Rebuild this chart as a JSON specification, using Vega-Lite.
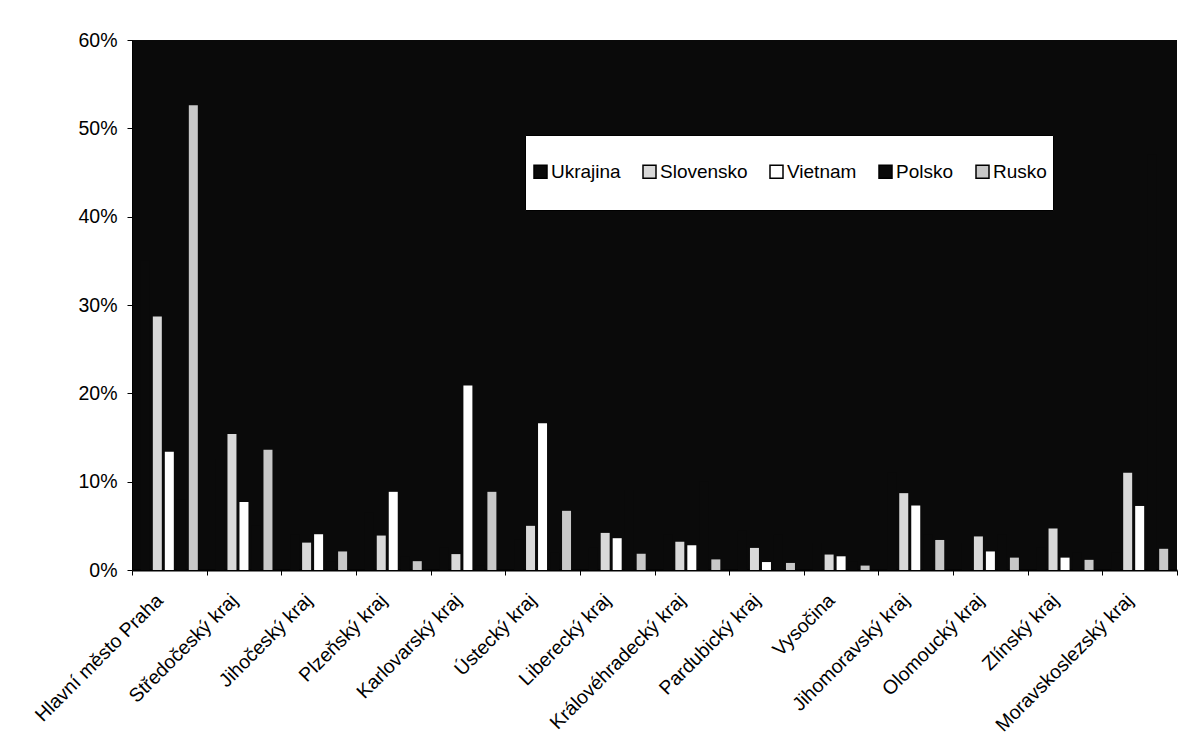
{
  "$schema": "https://vega.github.io/schema/vega-lite/v6.json",
  "width": 1045,
  "height": 530,
  "autosize": {"type": "none"},
  "padding": {"left": 132, "top": 40, "right": 20, "bottom": 181},
  "background": "white",
  "config": {
    "font": "Liberation Sans",
    "view": {"fill": "#0a0a0a", "stroke": null}
  },
  "data": {
    "values": [
      {"kraj": "Hlavní město Praha", "zeme": "Ukrajina", "podil": 0.35},
      {"kraj": "Hlavní město Praha", "zeme": "Slovensko", "podil": 0.287},
      {"kraj": "Hlavní město Praha", "zeme": "Vietnam", "podil": 0.134},
      {"kraj": "Hlavní město Praha", "zeme": "Polsko", "podil": 0.08},
      {"kraj": "Hlavní město Praha", "zeme": "Rusko", "podil": 0.526},
      {"kraj": "Středočeský kraj", "zeme": "Ukrajina", "podil": 0.125},
      {"kraj": "Středočeský kraj", "zeme": "Slovensko", "podil": 0.154},
      {"kraj": "Středočeský kraj", "zeme": "Vietnam", "podil": 0.077},
      {"kraj": "Středočeský kraj", "zeme": "Polsko", "podil": 0.05},
      {"kraj": "Středočeský kraj", "zeme": "Rusko", "podil": 0.136},
      {"kraj": "Jihočeský kraj", "zeme": "Ukrajina", "podil": 0.04},
      {"kraj": "Jihočeský kraj", "zeme": "Slovensko", "podil": 0.031},
      {"kraj": "Jihočeský kraj", "zeme": "Vietnam", "podil": 0.0405},
      {"kraj": "Jihočeský kraj", "zeme": "Polsko", "podil": 0.01},
      {"kraj": "Jihočeský kraj", "zeme": "Rusko", "podil": 0.021},
      {"kraj": "Plzeňský kraj", "zeme": "Ukrajina", "podil": 0.065},
      {"kraj": "Plzeňský kraj", "zeme": "Slovensko", "podil": 0.039},
      {"kraj": "Plzeňský kraj", "zeme": "Vietnam", "podil": 0.0885},
      {"kraj": "Plzeňský kraj", "zeme": "Polsko", "podil": 0.015},
      {"kraj": "Plzeňský kraj", "zeme": "Rusko", "podil": 0.01},
      {"kraj": "Karlovarský kraj", "zeme": "Ukrajina", "podil": 0.025},
      {"kraj": "Karlovarský kraj", "zeme": "Slovensko", "podil": 0.018},
      {"kraj": "Karlovarský kraj", "zeme": "Vietnam", "podil": 0.209},
      {"kraj": "Karlovarský kraj", "zeme": "Polsko", "podil": 0.005},
      {"kraj": "Karlovarský kraj", "zeme": "Rusko", "podil": 0.0885},
      {"kraj": "Ústecký kraj", "zeme": "Ukrajina", "podil": 0.035},
      {"kraj": "Ústecký kraj", "zeme": "Slovensko", "podil": 0.05},
      {"kraj": "Ústecký kraj", "zeme": "Vietnam", "podil": 0.166},
      {"kraj": "Ústecký kraj", "zeme": "Polsko", "podil": 0.02},
      {"kraj": "Ústecký kraj", "zeme": "Rusko", "podil": 0.067},
      {"kraj": "Liberecký kraj", "zeme": "Ukrajina", "podil": 0.025},
      {"kraj": "Liberecký kraj", "zeme": "Slovensko", "podil": 0.042},
      {"kraj": "Liberecký kraj", "zeme": "Vietnam", "podil": 0.036},
      {"kraj": "Liberecký kraj", "zeme": "Polsko", "podil": 0.09},
      {"kraj": "Liberecký kraj", "zeme": "Rusko", "podil": 0.0185},
      {"kraj": "Královéhradecký kraj", "zeme": "Ukrajina", "podil": 0.04},
      {"kraj": "Královéhradecký kraj", "zeme": "Slovensko", "podil": 0.032},
      {"kraj": "Královéhradecký kraj", "zeme": "Vietnam", "podil": 0.028},
      {"kraj": "Královéhradecký kraj", "zeme": "Polsko", "podil": 0.1},
      {"kraj": "Královéhradecký kraj", "zeme": "Rusko", "podil": 0.012},
      {"kraj": "Pardubický kraj", "zeme": "Ukrajina", "podil": 0.045},
      {"kraj": "Pardubický kraj", "zeme": "Slovensko", "podil": 0.025},
      {"kraj": "Pardubický kraj", "zeme": "Vietnam", "podil": 0.009},
      {"kraj": "Pardubický kraj", "zeme": "Polsko", "podil": 0.04},
      {"kraj": "Pardubický kraj", "zeme": "Rusko", "podil": 0.008},
      {"kraj": "Vysočina", "zeme": "Ukrajina", "podil": 0.03},
      {"kraj": "Vysočina", "zeme": "Slovensko", "podil": 0.0175},
      {"kraj": "Vysočina", "zeme": "Vietnam", "podil": 0.0155},
      {"kraj": "Vysočina", "zeme": "Polsko", "podil": 0.01},
      {"kraj": "Vysočina", "zeme": "Rusko", "podil": 0.005},
      {"kraj": "Jihomoravský kraj", "zeme": "Ukrajina", "podil": 0.11},
      {"kraj": "Jihomoravský kraj", "zeme": "Slovensko", "podil": 0.087},
      {"kraj": "Jihomoravský kraj", "zeme": "Vietnam", "podil": 0.073},
      {"kraj": "Jihomoravský kraj", "zeme": "Polsko", "podil": 0.04},
      {"kraj": "Jihomoravský kraj", "zeme": "Rusko", "podil": 0.034},
      {"kraj": "Olomoucký kraj", "zeme": "Ukrajina", "podil": 0.03},
      {"kraj": "Olomoucký kraj", "zeme": "Slovensko", "podil": 0.038},
      {"kraj": "Olomoucký kraj", "zeme": "Vietnam", "podil": 0.021},
      {"kraj": "Olomoucký kraj", "zeme": "Polsko", "podil": 0.04},
      {"kraj": "Olomoucký kraj", "zeme": "Rusko", "podil": 0.014},
      {"kraj": "Zlínský kraj", "zeme": "Ukrajina", "podil": 0.025},
      {"kraj": "Zlínský kraj", "zeme": "Slovensko", "podil": 0.047},
      {"kraj": "Zlínský kraj", "zeme": "Vietnam", "podil": 0.014},
      {"kraj": "Zlínský kraj", "zeme": "Polsko", "podil": 0.02},
      {"kraj": "Zlínský kraj", "zeme": "Rusko", "podil": 0.0115},
      {"kraj": "Moravskoslezský kraj", "zeme": "Ukrajina", "podil": 0.02},
      {"kraj": "Moravskoslezský kraj", "zeme": "Slovensko", "podil": 0.11},
      {"kraj": "Moravskoslezský kraj", "zeme": "Vietnam", "podil": 0.0725},
      {"kraj": "Moravskoslezský kraj", "zeme": "Polsko", "podil": 0.47},
      {"kraj": "Moravskoslezský kraj", "zeme": "Rusko", "podil": 0.024}
    ]
  },
  "mark": {"type": "bar"},
  "encoding": {
    "x": {
      "field": "kraj",
      "type": "nominal",
      "sort": null,
      "scale": {"paddingInner": 0, "paddingOuter": 0},
      "axis": {
        "title": null,
        "domainColor": "black",
        "domainWidth": 2,
        "tickColor": "black",
        "tickSize": 5,
        "tickWidth": 1,
        "tickBand": "extent",
        "labelAngle": -45,
        "labelAlign": "right",
        "labelBaseline": "middle",
        "labelPadding": 22,
        "labelOffset": -10,
        "labelFontSize": 19.5,
        "labelColor": "black",
        "labelFont": "Liberation Sans",
        "labelLimit": 400
      }
    },
    "xOffset": {
      "field": "zeme",
      "type": "nominal",
      "scale": {
        "domain": ["Ukrajina", "Slovensko", "Vietnam", "Polsko", "Rusko"],
        "paddingInner": 0.25,
        "paddingOuter": 0.735
      }
    },
    "y": {
      "field": "podil",
      "type": "quantitative",
      "scale": {"domain": [0, 0.6], "nice": false},
      "axis": {
        "title": null,
        "values": [0, 0.1, 0.2, 0.3, 0.4, 0.5, 0.6],
        "format": ".0%",
        "grid": false,
        "domainColor": "black",
        "domainWidth": 1,
        "tickColor": "black",
        "tickSize": 5,
        "labelPadding": 10,
        "labelFontSize": 19.5,
        "labelColor": "black",
        "labelFont": "Liberation Sans"
      }
    },
    "color": {
      "field": "zeme",
      "type": "nominal",
      "scale": {
        "domain": ["Ukrajina", "Slovensko", "Vietnam", "Polsko", "Rusko"],
        "range": ["#0a0a0a", "#d9d9d9", "#ffffff", "#0a0a0a", "#c8c8c8"]
      },
      "legend": {
        "title": " ",
        "titleFontSize": 16,
        "titlePadding": 5,
        "orient": "none",
        "direction": "horizontal",
        "legendX": 393,
        "legendY": 95,
        "fillColor": "white",
        "strokeColor": "black",
        "padding": 6,
        "columnPadding": 19,
        "labelOffset": 1,
        "labelFontSize": 19,
        "labelColor": "black",
        "labelFont": "Liberation Sans",
        "symbolType": "M-1,-1H1V1H-1Z M0,4.5L0,4.5",
        "symbolSize": 169,
        "symbolStrokeColor": "black",
        "symbolStrokeWidth": 1.5,
        "symbolOpacity": 1
      }
    }
  }
}
